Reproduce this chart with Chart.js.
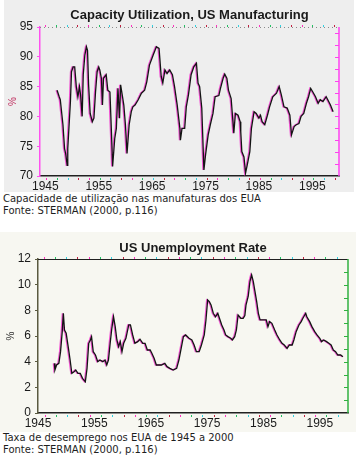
<!DOCTYPE html>
<html lang="pt">
<head>
  <meta charset="UTF-8" />
  <title>Capacidade de utilização e desemprego - EUA</title>
  <script src="https://cdn.jsdelivr.net/npm/chart.js"></script>
  <style>
    body {
      margin: 0;
      width: 364px;
      height: 459px;
      background: #ffffff;
      position: relative;
      overflow: hidden;
      font-family: 'DejaVu Sans', Verdana, sans-serif;
    }
    .bg1 { position: absolute; left: 4px; top: 0; width: 350px; height: 192px; background: #eeeeee; }
    .bg2 { position: absolute; left: 0; top: 232px; width: 356px; height: 200px; background: #f7f7f1; }
    canvas { position: absolute; left: 0; }
    #cap { top: 0; }
    #unemp { top: 232px; }
    .caption {
      position: absolute;
      left: 3px;
      font-size: 10px;
      line-height: 11.5px;
      color: #1e1e1e;
    }
  </style>
</head>
<body>
  <div class="bg1"></div>
  <div class="bg2"></div>
  <canvas id="cap" width="356" height="192"></canvas>
  <canvas id="unemp" width="356" height="200"></canvas>
  <div class="caption" style="top: 193px;">Capacidade de utilização nas manufaturas dos EUA<br>Fonte: STERMAN (2000, p.116)</div>
  <div class="caption" style="top: 432px;">Taxa de desemprego nos EUA de 1945 a 2000<br>Fonte: STERMAN (2000, p.116)</div>

  <script>
    // eixo x comum
    const yearTicks = [1945, 1955, 1965, 1975, 1985, 1995];

    // capacidade de utilizacao (%)
    const capYears = [1947.2, 1947.6, 1947.8, 1948.3, 1948.6, 1948.8, 1949.1, 1949.2, 1949.7, 1949.9,
      1950.2, 1950.5, 1950.8, 1951.1, 1951.4, 1951.6, 1951.9, 1952.1, 1952.4, 1952.7,
      1952.9, 1953.1, 1953.4, 1953.8, 1954.1, 1954.4, 1954.7, 1955.0, 1955.2, 1955.5,
      1955.7, 1955.9, 1956.4, 1956.7, 1957.1, 1957.4, 1957.6, 1958.0, 1958.3, 1958.6,
      1958.9, 1959.1, 1959.4, 1959.7, 1960.0, 1960.3, 1960.7, 1961.1, 1961.4, 1961.8,
      1962.4, 1963.0, 1963.6, 1964.0, 1964.5, 1965.2, 1965.8, 1966.3, 1966.7, 1967.0,
      1967.4, 1967.8, 1968.3, 1968.8, 1969.2, 1969.7, 1970.2, 1970.3, 1970.6, 1971.1,
      1971.4, 1971.8, 1972.3, 1972.8, 1973.3, 1973.6, 1973.9, 1974.3, 1974.7, 1975.0,
      1975.5, 1975.9, 1976.4, 1976.8, 1977.5, 1977.8, 1978.3, 1978.6, 1979.0, 1979.3,
      1979.8, 1980.3, 1980.6, 1981.1, 1981.5, 1981.6, 1981.8, 1982.2, 1982.5, 1982.8,
      1983.3, 1983.6, 1984.1, 1984.5, 1985.0, 1985.3, 1985.6, 1986.1, 1986.6, 1987.0,
      1987.6, 1988.3, 1988.8, 1989.2, 1989.7, 1990.3, 1990.8, 1991.1, 1991.6, 1992.0,
      1992.5, 1992.9, 1993.4, 1993.9, 1994.3, 1994.7, 1995.1, 1995.6, 1996.1, 1996.5,
      1997.0, 1997.6, 1997.9, 1998.4, 1998.9];
    const capValues = [84.4, 83.3, 82.8, 78.6, 74.6, 73.8, 71.8, 74.6, 82.5, 87.5,
      88.3, 88.3, 85.0, 83.3, 85.0, 83.6, 80.0, 87.0, 90.3, 91.7,
      91.1, 85.3, 80.5, 79.1, 79.7, 84.1, 87.5, 88.3, 87.8, 86.4,
      81.9, 86.4, 87.0, 84.4, 84.1, 76.9, 71.6, 76.3, 78.0, 84.7,
      79.7, 85.3, 83.6, 81.9, 78.6, 73.8, 78.6, 80.8, 81.6, 81.9,
      82.8, 83.9, 84.4, 85.8, 88.6, 90.3, 91.7, 91.4, 86.7, 85.6,
      87.8, 87.2, 87.8, 87.0, 85.0, 81.9, 78.0, 76.0, 78.0, 78.0,
      81.6, 83.6, 87.0, 88.3, 88.9, 85.6, 85.0, 81.4, 71.0, 73.5,
      76.9, 78.6, 80.5, 83.3, 83.5, 84.7, 86.4, 87.1, 86.4, 84.4,
      83.0, 77.2, 80.5, 80.2, 79.1, 77.4, 74.1, 73.2, 70.5, 71.8,
      74.1, 78.0, 80.8, 80.5, 79.7, 80.2, 79.1, 78.6, 80.2, 81.6,
      83.3, 83.9, 85.0, 83.6, 81.6, 81.4, 80.2, 76.9, 78.3, 78.6,
      78.8, 80.0, 80.5, 82.2, 83.3, 84.7, 84.1, 83.3, 82.2, 82.8,
      82.5, 83.3, 82.8, 81.9, 80.8];

    // taxa de desemprego (%)
    const unempYears = [1947.9, 1948.0, 1948.3, 1948.7, 1949.0, 1949.3, 1949.5, 1949.7, 1950.0, 1950.4,
      1950.7, 1951.0, 1951.4, 1951.7, 1952.1, 1952.5, 1952.9, 1953.4, 1953.7, 1954.0,
      1954.3, 1954.5, 1954.8, 1955.2, 1955.6, 1956.0, 1956.5, 1956.9, 1957.2, 1957.5,
      1957.8, 1958.1, 1958.4, 1958.7, 1959.0, 1959.3, 1959.6, 1959.9, 1960.2, 1960.6,
      1961.1, 1961.4, 1961.8, 1962.2, 1962.7, 1963.1, 1963.6, 1964.0, 1964.4, 1964.9,
      1965.2, 1965.6, 1966.0, 1966.5, 1966.9, 1967.5, 1967.9, 1968.4, 1969.0, 1969.6,
      1970.0, 1970.4, 1970.8, 1971.2, 1971.8, 1972.3, 1972.7, 1973.1, 1973.6, 1974.0,
      1974.5, 1974.8, 1975.1, 1975.4, 1975.7, 1976.1, 1976.5, 1976.9, 1977.3, 1977.6,
      1978.0, 1978.3, 1978.7, 1979.2, 1979.5, 1979.9, 1980.2, 1980.5, 1981.0, 1981.4,
      1981.7, 1981.9, 1982.3, 1982.6, 1982.9, 1983.2, 1983.5, 1983.8, 1984.1, 1984.4,
      1984.8, 1985.2, 1985.5, 1985.8, 1986.1, 1986.5, 1987.0, 1987.4, 1987.9, 1988.3,
      1988.7, 1989.2, 1989.6, 1990.1, 1990.4, 1990.8, 1991.3, 1991.7, 1992.0, 1992.5,
      1992.7, 1993.2, 1993.6, 1994.1, 1994.5, 1995.0, 1995.3, 1995.7, 1996.2, 1996.6,
      1997.0, 1997.4, 1997.8, 1998.2, 1998.7, 1999.1];
    const unempValues = [3.87, 3.35, 3.74, 3.87, 4.78, 6.34, 7.77, 6.47, 6.21, 5.04,
      4.13, 3.09, 3.22, 3.35, 3.09, 3.09, 2.70, 2.44, 3.48, 5.43,
      5.69, 5.95, 4.78, 4.52, 4.00, 4.13, 4.00, 4.13, 3.74, 4.13,
      5.43, 6.60, 7.50, 6.73, 5.69, 5.17, 5.56, 4.78, 5.43, 5.82,
      6.86, 6.86, 6.08, 5.43, 5.56, 5.75, 5.43, 5.43, 4.91, 4.91,
      4.65, 4.26, 3.74, 3.74, 3.74, 3.87, 3.61, 3.48, 3.35, 3.48,
      4.13, 5.04, 5.95, 6.08, 5.82, 5.69, 5.30, 4.78, 4.78, 5.30,
      6.08, 7.25, 8.81, 8.68, 8.42, 7.77, 7.50, 7.77, 7.25, 6.86,
      6.47, 6.08, 5.95, 5.82, 5.69, 5.95, 6.47, 7.64, 7.38, 7.38,
      7.60, 8.40, 9.10, 10.23, 10.76, 10.23, 9.46, 8.68, 7.77, 7.25,
      7.25, 7.25, 7.25, 6.73, 7.12, 6.99, 6.47, 6.08, 5.69, 5.43,
      5.30, 5.04, 5.30, 5.30, 5.69, 6.34, 6.86, 7.12, 7.38, 7.77,
      7.50, 7.12, 6.73, 6.34, 6.08, 5.82, 5.56, 5.69, 5.56, 5.43,
      5.30, 4.91, 4.78, 4.52, 4.52, 4.39];

    function toPoints(xs, ys) {
      return xs.map((x, i) => ({ x: x, y: ys[i] }));
    }

    // moldura: linha de cima, eixo direito e marcas internas
    const framePlugin = {
      id: 'frame',
      afterDraw(chart, args, opts) {
        const ctx = chart.ctx;
        const a = chart.chartArea;
        const ys = chart.scales.y;
        ctx.save();
        // linha superior
        ctx.strokeStyle = opts.topColor;
        ctx.lineWidth = 1;
        ctx.setLineDash(opts.topDash);
        ctx.beginPath();
        ctx.moveTo(a.left, a.top + 0.5);
        ctx.lineTo(a.right, a.top + 0.5);
        ctx.stroke();
        ctx.setLineDash([]);
        // eixo direito
        ctx.strokeStyle = opts.rightColor;
        ctx.lineWidth = 1.5;
        ctx.beginPath();
        ctx.moveTo(a.right, a.top);
        ctx.lineTo(a.right, a.bottom);
        ctx.stroke();
        ctx.lineWidth = 1;
        for (let v = ys.min + opts.rightStep; v < ys.max; v += opts.rightStep) {
          const py = Math.round(ys.getPixelForValue(v)) + 0.5;
          ctx.beginPath();
          ctx.moveTo(a.right - 4, py);
          ctx.lineTo(a.right, py);
          ctx.stroke();
        }
        // pontinhos coloridos na linha de cima e de baixo
        const xs = chart.scales.x;
        const cols = ['#ff30c0', '#20c060', '#30d0e0', '#c02040'];
        let k = 0;
        for (let v = xs.min + 1; v < xs.max; v += 2) {
          const px = Math.round(xs.getPixelForValue(v));
          ctx.fillStyle = cols[k++ % cols.length];
          ctx.fillRect(px, a.top - 2, 1, 2);
          ctx.fillRect(px + 1, a.bottom + 2, 1, 2);
        }
        ctx.restore();
      }
    };

    // sombra magenta da linha (efeito da imagem escaneada)
    const fringePlugin = {
      id: 'fringe',
      beforeDatasetDraw(chart) {
        chart.ctx.save();
        chart.ctx.shadowColor = 'rgba(240, 30, 200, 0.75)';
        chart.ctx.shadowOffsetX = -1;
        chart.ctx.shadowOffsetY = 0;
        chart.ctx.shadowBlur = 0;
      },
      afterDatasetDraw(chart) {
        chart.ctx.restore();
      }
    };

    const tickFont = { family: "'Liberation Sans', Arial, sans-serif", size: 12 };

    function makeChart(id, cfg) {
      return new Chart(document.getElementById(id), {
        type: 'line',
        data: {
          datasets: [{
            data: cfg.points,
            borderColor: '#141414',
            borderWidth: 1.3,
            pointRadius: 0,
            tension: 0,
            fill: false
          }]
        },
        plugins: [framePlugin, fringePlugin],
        options: {
          responsive: false,
          animation: false,
          devicePixelRatio: 1,
          parsing: false,
          layout: { padding: { left: 0, right: cfg.padRight, top: 0, bottom: 0 } },
          plugins: {
            legend: { display: false },
            tooltip: { enabled: false },
            title: {
              display: true,
              fullSize: false,
              text: cfg.title,
              color: '#1a1a1a',
              font: { family: "'Liberation Sans', Arial, sans-serif", size: 13, weight: 'bold' },
              padding: { top: cfg.titleTop, bottom: cfg.titleBottom }
            },
            frame: cfg.frame
          },
          scales: {
            x: {
              type: 'linear',
              min: cfg.xMin,
              max: cfg.xMax,
              afterBuildTicks: s => { s.ticks = yearTicks.map(v => ({ value: v })); },
              afterFit: s => { s.height = cfg.xHeight; },
              border: { color: '#202020', width: 1.5 },
              grid: { display: false, drawTicks: false },
              ticks: {
                color: '#1a1a1a',
                font: tickFont,
                padding: 3,
                maxRotation: 0,
                autoSkip: false,
                callback: v => String(v)
              }
            },
            y: {
              min: cfg.yMin,
              max: cfg.yMax,
              afterFit: s => { s.width = cfg.yWidth; },
              border: { color: cfg.leftColor, width: 1.5 },
              grid: { drawOnChartArea: false, tickLength: 3, color: cfg.leftColor },
              title: {
                display: true,
                text: '%',
                color: cfg.pctColor,
                font: { family: "'Liberation Sans', Arial, sans-serif", size: 10 },
                padding: { top: cfg.pctPad, bottom: 0 }
              },
              ticks: {
                stepSize: cfg.yStep,
                color: '#1a1a1a',
                font: tickFont,
                padding: 4,
                callback: v => (v % cfg.labelEvery === 0 ? String(v) : '')
              }
            }
          }
        }
      });
    }

    makeChart('cap', {
      points: toPoints(capYears, capValues),
      title: 'Capacity Utilization, US Manufacturing',
      titleTop: 8, titleBottom: 3.4,
      padRight: 17,
      xMin: 1944, xMax: 2000, xHeight: 16,
      yMin: 70, yMax: 95, yStep: 2.5, labelEvery: 5, yWidth: 40,
      leftColor: '#ff50f0', pctColor: '#c03060', pctPad: 7,
      frame: { topColor: '#8a8a8a', topDash: [1, 3], rightColor: '#ff40f0', rightStep: 2 }
    });

    makeChart('unemp', {
      points: toPoints(unempYears, unempValues),
      title: 'US Unemployment Rate',
      titleTop: 9, titleBottom: 2.4,
      padRight: 8,
      xMin: 1945, xMax: 2000, xHeight: 19,
      yMin: 0, yMax: 12, yStep: 1, labelEvery: 2, yWidth: 38,
      leftColor: '#5a5a40', pctColor: '#303030', pctPad: 5,
      frame: { topColor: '#202020', topDash: [], rightColor: '#30b040', rightStep: 1 }
    });
  </script>
</body>
</html>
